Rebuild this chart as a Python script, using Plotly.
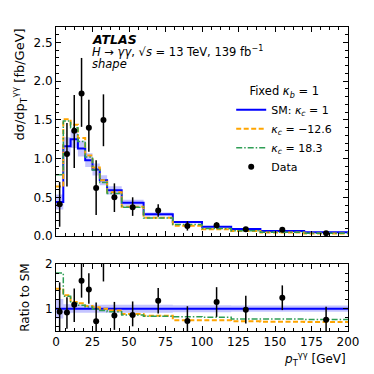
import plotly.graph_objects as go

# pT bin edges [GeV] and data points
bin_edges = [0, 5, 10, 15, 20, 25, 30, 35, 45, 60, 80, 100, 120, 140, 170, 200]
bin_centres = [2.5, 7.5, 12.5, 17.5, 22.5, 27.5, 32.5, 40, 52.5, 70, 90, 110, 130, 155, 185]

data_xs = [0.41, 1.06, 1.36, 1.84, 1.40, 0.62, 1.50, 0.50, 0.37, 0.33, 0.13, 0.138, 0.088, 0.081, 0.036]
data_err_up = [0.29, 0.40, 0.46, 0.46, 0.36, 0.36, 0.33, 0.18, 0.13, 0.08, 0.06, 0.04, 0.028, 0.018, 0.014]
data_err_dn = [0.29, 0.42, 0.48, 0.43, 0.31, 0.35, 0.34, 0.19, 0.11, 0.08, 0.06, 0.04, 0.028, 0.018, 0.014]

sm_xs = [0.44, 1.16, 1.25, 1.13, 0.98, 0.86, 0.72, 0.59, 0.43, 0.28, 0.18, 0.12, 0.09, 0.065, 0.048]
sm_rel_unc = [0.22, 0.10, 0.09, 0.09, 0.09, 0.09, 0.09, 0.09, 0.09, 0.09, 0.08, 0.08, 0.07, 0.07, 0.07]

# kappa_c variations, as ratio to SM
kc_m126_ratio = [1.45, 1.30, 1.15, 1.12, 1.06, 1.03, 1.00, 0.96, 0.88, 0.84, 0.74, 0.74, 0.72, 0.71, 0.70]
kc_183_ratio = [1.80, 1.28, 1.12, 1.08, 1.04, 0.99, 0.96, 0.93, 0.86, 0.83, 0.82, 0.81, 0.77, 0.77, 0.76]

BLUE = "#0000ff"
ORANGE = "#ffa500"
GREEN = "#2f9e55"
BAND = "rgba(70,70,255,0.32)"
FONT = "DejaVu Sans"


def steps(vals):
    return list(vals) + [vals[-1]]


kc_m126 = [s * r for s, r in zip(sm_xs, kc_m126_ratio)]
kc_183 = [s * r for s, r in zip(sm_xs, kc_183_ratio)]
sm_hi = [s * (1 + u) for s, u in zip(sm_xs, sm_rel_unc)]
sm_lo = [s * (1 - u) for s, u in zip(sm_xs, sm_rel_unc)]

ratio = [d / s for d, s in zip(data_xs, sm_xs)]
ratio_up = [e / s for e, s in zip(data_err_up, sm_xs)]
ratio_dn = [e / s for e, s in zip(data_err_dn, sm_xs)]

fig = go.Figure()

for xa, ya, top in [("x", "y", True), ("x2", "y2", False)]:
    if top:
        hi, lo, sm, om, gr = sm_hi, sm_lo, sm_xs, kc_m126, kc_183
    else:
        hi = [1 + u for u in sm_rel_unc]
        lo = [1 - u for u in sm_rel_unc]
        sm = [1.0] * len(sm_xs)
        om, gr = kc_m126_ratio, kc_183_ratio
    fig.add_trace(go.Scatter(x=bin_edges, y=steps(lo), xaxis=xa, yaxis=ya, line_shape="hv",
                             mode="lines", line=dict(width=0), showlegend=False, hoverinfo="skip"))
    fig.add_trace(go.Scatter(x=bin_edges, y=steps(hi), xaxis=xa, yaxis=ya, line_shape="hv",
                             mode="lines", line=dict(width=0), fill="tonexty", fillcolor=BAND,
                             showlegend=False, hoverinfo="skip"))
    fig.add_trace(go.Scatter(x=bin_edges, y=steps(sm), xaxis=xa, yaxis=ya, line_shape="hv",
                             mode="lines", line=dict(color=BLUE, width=2),
                             name="SM: <i>κ<sub>c</sub></i> = 1", showlegend=top))
    fig.add_trace(go.Scatter(x=bin_edges, y=steps(om), xaxis=xa, yaxis=ya, line_shape="hv",
                             mode="lines", line=dict(color=ORANGE, width=2, dash="5px,2.5px"),
                             name="<i>κ<sub>c</sub></i> = −12.6", showlegend=top))
    fig.add_trace(go.Scatter(x=bin_edges, y=steps(gr), xaxis=xa, yaxis=ya, line_shape="hv",
                             mode="lines", line=dict(color=GREEN, width=1.5, dash="6px,2px,1.5px,2px"),
                             name="<i>κ<sub>c</sub></i> = 18.3", showlegend=top))
    fig.add_trace(go.Scatter(
        x=bin_centres, y=data_xs if top else ratio, xaxis=xa, yaxis=ya, mode="markers",
        marker=dict(color="black", size=6),
        error_y=dict(type="data", symmetric=False,
                     array=data_err_up if top else ratio_up,
                     arrayminus=data_err_dn if top else ratio_dn,
                     color="black", thickness=1.5, width=0),
        name="Data", showlegend=top))

axis_common = dict(showline=True, linecolor="black", linewidth=1, mirror="allticks",
                   ticks="inside", ticklen=5, tickcolor="black", showgrid=False, zeroline=False,
                   tickfont=dict(family=FONT, size=12, color="black"))

fig.update_layout(
    width=374, height=374,
    margin=dict(l=56, r=26, t=27, b=43),
    plot_bgcolor="white", paper_bgcolor="white",
    font=dict(family=FONT, size=12, color="black"),
    xaxis=dict(domain=[0, 1], range=[0, 200], anchor="y", dtick=25, showticklabels=False,
               minor=dict(ticks="inside", dtick=6.25, ticklen=3, tickcolor="black"), **axis_common),
    yaxis=dict(domain=[0.3125, 1], range=[0, 2.7], anchor="x", dtick=0.5, tickformat=".1f",
               minor=dict(ticks="inside", dtick=0.1, ticklen=3, tickcolor="black"), **axis_common),
    xaxis2=dict(domain=[0, 1], range=[0, 200], anchor="y2", dtick=25, matches="x",
                minor=dict(ticks="inside", dtick=6.25, ticklen=3, tickcolor="black"), **axis_common),
    yaxis2=dict(domain=[0, 0.22], range=[0.5, 2], anchor="x2", tickvals=[1, 2],
                minor=dict(ticks="inside", tickvals=[0.6, 0.8, 1.2, 1.4, 1.6, 1.8], ticklen=3,
                           tickcolor="black"),
                title=dict(text="Ratio to SM", font=dict(family=FONT, size=12), standoff=12),
                **axis_common),
    legend=dict(x=0.6, y=0.825, xanchor="left", yanchor="top", bgcolor="rgba(0,0,0,0)",
                traceorder="normal", itemwidth=30, tracegroupgap=0,
                font=dict(family=FONT, size=11),
                title=dict(text="Fixed <i>κ<sub>b</sub></i> = 1", side="top center",
                           font=dict(family=FONT, size=11.5))),
    showlegend=True,
)

fig.add_annotation(xref="paper", yref="paper", x=-0.125, y=1.0, xanchor="center", yanchor="top",
                   text="dσ/dp<sub>T</sub><sup>γγ</sup> [fb/GeV]", textangle=-90, showarrow=False,
                   font=dict(family=FONT, size=13))
fig.add_annotation(xref="paper", yref="paper", x=1.0, y=-0.055, xanchor="right", yanchor="top",
                   text="<i>p</i><sub>T</sub><sup>γγ</sup> [GeV]", showarrow=False,
                   font=dict(family=FONT, size=12))

info_lines = ["<b><i>ATLAS</i></b>",
              "<i>H</i> → <i>γγ</i>, √<i>s</i> = 13 TeV, 139 fb<sup>−1</sup>",
              "<i>shape</i>"]
for i, txt in enumerate(info_lines):
    fig.add_annotation(xref="paper", yref="paper", x=0.115, y=0.96 - i * 0.041,
                       xanchor="left", yanchor="middle", text=txt, showarrow=False,
                       font=dict(family=FONT, size=11.5 if i else 12.5))

# drop the default 8px page margin so the figure sits at the window's corner
fig.write_html("out.html", config={"displayModeBar": False},
               post_script="document.body.style.margin='0';")
